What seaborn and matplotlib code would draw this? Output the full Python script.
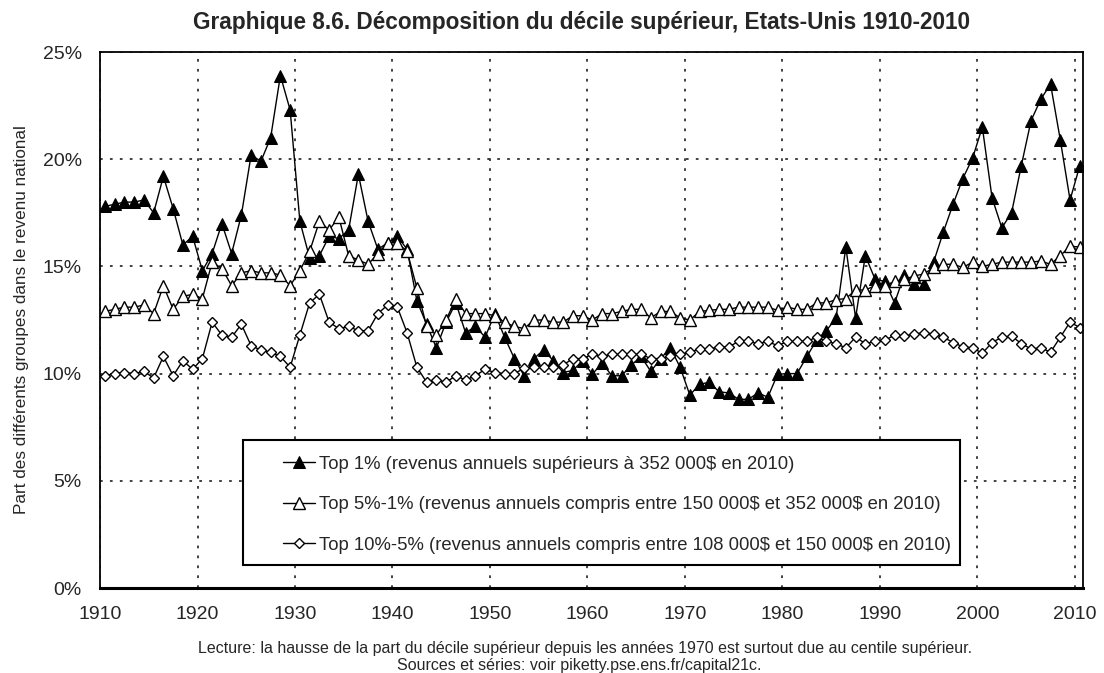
import matplotlib
matplotlib.use("Agg")
import matplotlib.pyplot as plt
from matplotlib.patches import Rectangle
import seaborn as sns
import pandas as pd

years = list(range(1910, 2011))

top1 = [17.8, 17.9, 18.0, 18.0, 18.1, 17.5, 19.2, 17.7, 16.0, 16.4,
        14.8, 15.6, 17.0, 15.6, 17.4, 20.2, 19.9, 21.0, 23.9, 22.3,
        17.1, 15.4, 15.5, 16.4, 16.3, 16.7, 19.3, 17.1, 15.8, 16.1,
        16.4, 15.8, 13.4, 12.3, 11.2, 12.4, 13.3, 11.9, 12.2, 11.7,
        12.8, 11.7, 10.7, 9.9, 10.7, 11.1, 10.6, 10.05, 10.15, 10.6,
        9.97, 10.5, 9.9, 9.9, 10.4, 10.8, 10.1, 10.7, 11.2, 10.3,
        9.0, 9.5, 9.6, 9.15, 9.1, 8.8, 8.8, 9.1, 8.9, 9.97,
        10.0, 10.0, 10.8, 11.55, 12.0, 12.6, 15.9, 12.6, 15.5, 14.4,
        14.3, 13.3, 14.6, 14.2, 14.2, 15.2, 16.6, 17.9, 19.1, 20.05,
        21.5, 18.2, 16.8, 17.5, 19.7, 21.8, 22.8, 23.5, 20.9, 18.1,
        19.7]

top5_1 = [12.9, 13.0, 13.1, 13.1, 13.2, 12.8, 14.1, 13.0, 13.6, 13.7,
          13.5, 15.2, 14.9, 14.1, 14.7, 14.8, 14.7, 14.7, 14.6, 14.1,
          14.8, 15.7, 17.1, 16.7, 17.3, 15.5, 15.3, 15.1, 15.6, 16.1,
          16.1, 15.7, 14.0, 12.2, 11.8, 12.5, 13.5, 12.8, 12.8, 12.8,
          12.7, 12.4, 12.2, 12.1, 12.5, 12.5, 12.4, 12.4, 12.7, 12.7,
          12.5, 12.8, 12.8, 12.9, 13.0, 13.0, 12.6, 12.9, 12.9, 12.6,
          12.5, 12.9, 12.95, 13.0, 13.0, 13.1, 13.1, 13.1, 13.1, 12.95,
          13.1, 13.0, 13.0, 13.3, 13.3, 13.45, 13.5, 13.9, 13.9, 14.1,
          14.1, 14.3, 14.4, 14.55, 14.65, 14.95, 15.1, 15.1, 14.95, 15.2,
          15.0, 15.1, 15.2, 15.2, 15.2, 15.2, 15.25, 15.1, 15.5, 15.95,
          15.9]

top10_5 = [9.9, 10.0, 10.05, 10.0, 10.1, 9.8, 10.8, 9.9, 10.6, 10.2,
           10.7, 12.4, 11.8, 11.7, 12.3, 11.3, 11.1, 11.0, 10.8, 10.3,
           11.8, 13.3, 13.7, 12.4, 12.1, 12.2, 12.0, 12.0, 12.8, 13.2,
           13.1, 11.9, 10.3, 9.6, 9.7, 9.6, 9.9, 9.7, 9.9, 10.2,
           10.05, 10.0, 10.0, 10.25, 10.3, 10.3, 10.3, 10.4, 10.7, 10.7,
           10.9, 10.8, 10.9, 10.9, 10.9, 10.9, 10.7, 10.7, 10.8, 10.9,
           11.0, 11.15, 11.15, 11.25, 11.25, 11.5, 11.5, 11.4, 11.5, 11.3,
           11.5, 11.5, 11.5, 11.7, 11.5, 11.4, 11.2, 11.7, 11.4, 11.5,
           11.55, 11.8, 11.75, 11.85, 11.9, 11.85, 11.7, 11.45, 11.25, 11.2,
           10.95, 11.45, 11.7, 11.75, 11.4, 11.15, 11.2, 11.0, 11.7, 12.4,
           12.15]

labels = ["Top 1% (revenus annuels supérieurs à 352 000$ en 2010)",
          "Top 5%-1% (revenus annuels compris entre 150 000$ et 352 000$ en 2010)",
          "Top 10%-5% (revenus annuels compris entre 108 000$ et 150 000$ en 2010)"]

tick_years = list(range(1910, 2011, 10))
y_ticks = [0, 5, 10, 15, 20, 25]

df = pd.DataFrame({"year": years, "top1": top1, "top5_1": top5_1, "top10_5": top10_5})

sns.set_style("white")
plt.rcParams['font.family'] = ['Liberation Sans', 'DejaVu Sans']
plt.rcParams['text.parse_math'] = False

fig = plt.figure(figsize=(11.04, 6.73), dpi=100)
ax = fig.add_axes([0.0906, 0.1263, 0.8904, 0.7964])

sns.lineplot(data=df, x="year", y="top1", ax=ax, color="black", lw=1,
             marker="^", markersize=9, markerfacecolor="black",
             markeredgecolor="black", label=labels[0])
sns.lineplot(data=df, x="year", y="top5_1", ax=ax, color="black", lw=1,
             marker="^", markersize=9, markerfacecolor="white",
             markeredgecolor="black", markeredgewidth=1, label=labels[1])
sns.lineplot(data=df, x="year", y="top10_5", ax=ax, color="black", lw=1,
             marker="D", markersize=5.5, markerfacecolor="white",
             markeredgecolor="black", markeredgewidth=1, label=labels[2])

# category-style axis: ticks sit between years
ax.set_xlim(1909.5, 2010.33)
ax.set_xticks([t - 0.5 for t in tick_years])
ax.set_xticklabels([str(t) for t in tick_years], fontsize=14)
ax.set_ylim(0, 25)
ax.set_yticks(y_ticks)
ax.set_yticklabels([f"{v}%" for v in y_ticks], fontsize=14)
ax.tick_params(axis="both", direction="out", length=5, width=1, color="black", pad=8)
ax.grid(True, linestyle=(0, (1.5, 4)), color="#333333", linewidth=1.3)

for s in ax.spines.values():
    s.set_color("black")
    s.set_linewidth(1.3)
ax.spines["bottom"].set_linewidth(2.2)

ax.set_xlabel("")
ax.set_ylabel("Part des différents groupes dans le revenu national", fontsize=12.3, labelpad=10)

# legend box drawn separately so the left padding can be wider than the right
ax.add_patch(Rectangle((0.1455, 0.043), 0.7295, 0.233, transform=ax.transAxes,
                       facecolor="white", edgecolor="black", linewidth=1.5, zorder=4))
leg = ax.legend(loc="upper left", bbox_to_anchor=(0.186, 0.247), fontsize=13.3,
                frameon=False, handlelength=1.75, labelspacing=1.27, borderpad=0,
                handletextpad=0.2, borderaxespad=0)
leg.set_zorder(5)

fig.suptitle("Graphique 8.6. Décomposition du décile supérieur, Etats-Unis 1910-2010",
             fontsize=16.3, fontweight="bold", x=0.527, y=0.983)
fig.text(0.53, 0.037, "Lecture: la hausse de la part du décile supérieur depuis les années 1970 est surtout due au centile supérieur.",
         ha="center", va="center", fontsize=11.5)
fig.text(0.525, 0.011, "Sources et séries: voir piketty.pse.ens.fr/capital21c.",
         ha="center", va="center", fontsize=11.5)

plt.savefig("out.png", dpi=100)
